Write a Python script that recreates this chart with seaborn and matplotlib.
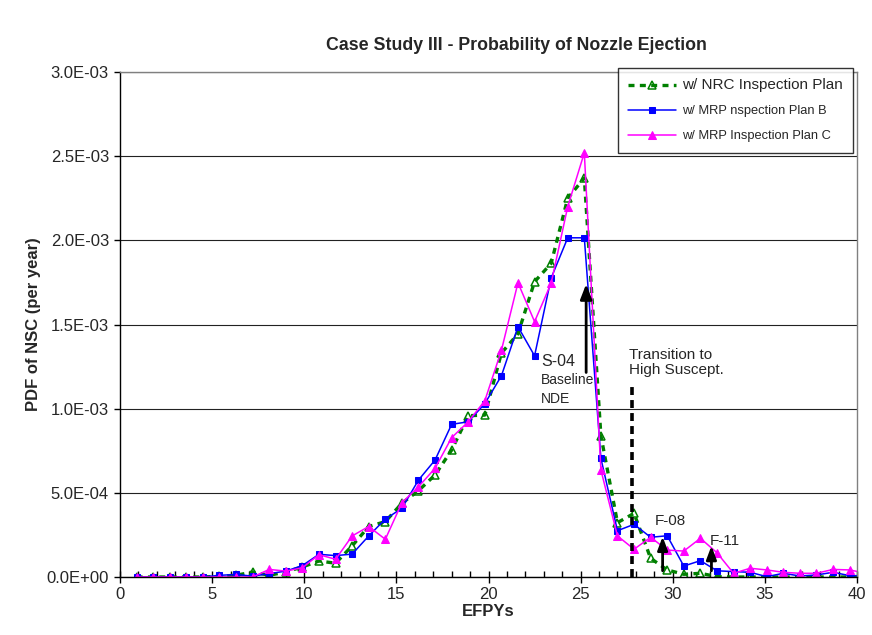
import numpy as np
import pandas as pd
import matplotlib
matplotlib.use("Agg")
import matplotlib.pyplot as plt
from matplotlib.ticker import MultipleLocator, FormatStrFormatter
import seaborn as sns

# ---- data (PDF values in units of 1e-4 per year) ----
efpy_step = 0.9
n_points = 45
efpy = [round(efpy_step * i, 2) for i in range(1, n_points + 1)]

nrc_plan = [0, 0, 0, 0, 0, 0.05, 0.1, 0.3, 0.1, 0.3,
            0.6, 0.95, 0.82, 1.85, 3.0, 3.29, 4.38, 5.13, 6.06, 7.54,
            9.58, 9.62, 13.3, 14.45, 17.54, 18.63, 22.5, 23.7, 8.4, 3.23,
            3.78, 1.11, 0.42, 0.16, 0.22, 0.02, 0.0, 0.0, 0.0, 0.0,
            0.0, 0.0, 0.0, 0.0, 0.0]
mrp_plan_b = [0, 0, 0, 0, 0, 0.1, 0.15, 0.05, 0.2, 0.35,
              0.68, 1.35, 1.27, 1.36, 2.44, 3.44, 4.08, 5.76, 6.95, 9.07,
              9.22, 10.3, 11.95, 14.87, 13.14, 17.76, 20.15, 20.15, 7.05, 2.75,
              3.13, 2.36, 2.45, 0.65, 0.97, 0.37, 0.32, 0.28, 0.02, 0.22,
              0.06, 0.12, 0.28, 0.08, 0.08]
mrp_plan_c = [0, 0, 0, 0, 0, 0, 0, 0, 0.45, 0.35,
              0.55, 1.33, 1.05, 2.44, 3.0, 2.24, 4.41, 5.36, 6.46, 8.28,
              9.22, 10.47, 13.46, 17.48, 15.17, 17.45, 22.0, 25.2, 6.36, 2.44,
              1.65, 2.36, 1.6, 1.54, 2.3, 1.44, 0.22, 0.52, 0.42, 0.28,
              0.22, 0.22, 0.45, 0.42, 0.22]

labels = ["w/ NRC Inspection Plan", "w/ MRP nspection Plan B", "w/ MRP Inspection Plan C"]
title = "Case Study III - Probability of Nozzle Ejection"
xlabel = "EFPYs"
ylabel = "PDF of NSC (per year)"

scale = 1e-4
df_nrc = pd.DataFrame({"EFPY": efpy, "PDF": np.array(nrc_plan) * scale})
df_b = pd.DataFrame({"EFPY": efpy, "PDF": np.array(mrp_plan_b) * scale})
df_c = pd.DataFrame({"EFPY": efpy, "PDF": np.array(mrp_plan_c) * scale})

# ---- style ----
sns.set_style("ticks")
plt.rcParams["font.family"] = ["Liberation Sans", "DejaVu Sans"]

fig = plt.figure(figsize=(8.72, 6.35), dpi=100)
ax = fig.add_axes([120 / 872, 1 - 577 / 635, (857 - 120) / 872, (577 - 72) / 635])

green = "#008000"
blue = "#0000FF"
pink = "#FF00FF"

sns.lineplot(data=df_nrc, x="EFPY", y="PDF", ax=ax, color=green, lw=2.4,
             marker="^", markersize=5.5, markerfacecolor="none",
             markeredgecolor=green, markeredgewidth=1.1, label=labels[0])
ax.lines[-1].set_dashes((1.8, 1.6))
sns.lineplot(data=df_b, x="EFPY", y="PDF", ax=ax, color=blue, lw=1.1,
             marker="s", markersize=5, markerfacecolor=blue,
             markeredgecolor=blue, label=labels[1])
sns.lineplot(data=df_c, x="EFPY", y="PDF", ax=ax, color=pink, lw=1.1,
             marker="^", markersize=6, markerfacecolor=pink,
             markeredgecolor=pink, label=labels[2])

ax.set_xlim(0, 40)
ax.set_ylim(0, 3.0e-3)
ax.xaxis.set_major_locator(MultipleLocator(5))
ax.xaxis.set_minor_locator(MultipleLocator(1))
ax.yaxis.set_major_locator(MultipleLocator(5e-4))
ax.yaxis.set_major_formatter(FormatStrFormatter("%.1E"))
ax.tick_params(axis="x", which="major", direction="inout", length=8, width=1,
               labelsize=12, pad=3, color="black")
ax.tick_params(axis="x", which="minor", direction="in", length=4, width=1, color="black")
ax.tick_params(axis="y", which="major", direction="out", length=4, width=1,
               labelsize=12, pad=4, color="black")
ax.yaxis.grid(True, color="#222222", lw=0.8)
ax.set_axisbelow(True)
for s in ["left", "bottom"]:
    ax.spines[s].set_color("black")
    ax.spines[s].set_linewidth(1.0)
for s in ["top", "right"]:
    ax.spines[s].set_visible(True)
    ax.spines[s].set_color("#808080")
    ax.spines[s].set_linewidth(1.0)

ax.set_xlabel(xlabel, fontsize=12, fontweight="bold", labelpad=2)
ax.set_ylabel(ylabel, fontsize=12, fontweight="bold", labelpad=4)
fig.text(516 / 872, 1 - 45 / 635, title, ha="center", va="center",
         fontsize=12.8, fontweight="bold")

# ---- annotations ----
arrow_big = dict(arrowstyle="-|>,head_length=0.9,head_width=0.35",
                 color="black", lw=2, shrinkA=0, shrinkB=0)
arrow_small = dict(arrowstyle="-|>,head_length=0.8,head_width=0.3",
                   color="black", lw=2, shrinkA=0, shrinkB=0)
ax.annotate("", xy=(25.3, 1.74e-3), xytext=(25.3, 1.215e-3), arrowprops=arrow_big)
ax.text(22.85, 1.28e-3, "S-04", fontsize=11.5, ha="left", va="center")
ax.text(22.85, 1.17e-3, "Baseline", fontsize=10, ha="left", va="center")
ax.text(22.85, 1.06e-3, "NDE", fontsize=10, ha="left", va="center")

ax.plot([27.8, 27.8], [0, 1.16e-3], color="black", lw=2.6, dashes=(2.2, 1.4))
ax.text(27.6, 1.275e-3, "Transition to\nHigh Suscept.", fontsize=11,
        ha="left", va="center", linespacing=1.15)

ax.annotate("", xy=(29.45, 2.4e-4), xytext=(29.45, 3.7e-5), arrowprops=arrow_small)
ax.text(29.0, 3.3e-4, "F-08", fontsize=11, ha="left", va="center")
ax.annotate("", xy=(32.1, 1.85e-4), xytext=(32.1, 3.7e-5), arrowprops=arrow_small)
ax.text(32.0, 2.16e-4, "F-11", fontsize=11, ha="left", va="center")

# ---- legend ----
leg = ax.legend(loc="upper right", bbox_to_anchor=(853 / 872, 1 - 68 / 635),
                bbox_transform=fig.transFigure, borderaxespad=0,
                frameon=True, fancybox=False, edgecolor="black",
                handlelength=3.7, handletextpad=0.45, borderpad=0.8,
                labelspacing=1.0, fontsize=9.3)
leg.get_frame().set_linewidth(1.0)
leg.get_texts()[0].set_fontsize(11)

fig.savefig("out.png", dpi=100)
